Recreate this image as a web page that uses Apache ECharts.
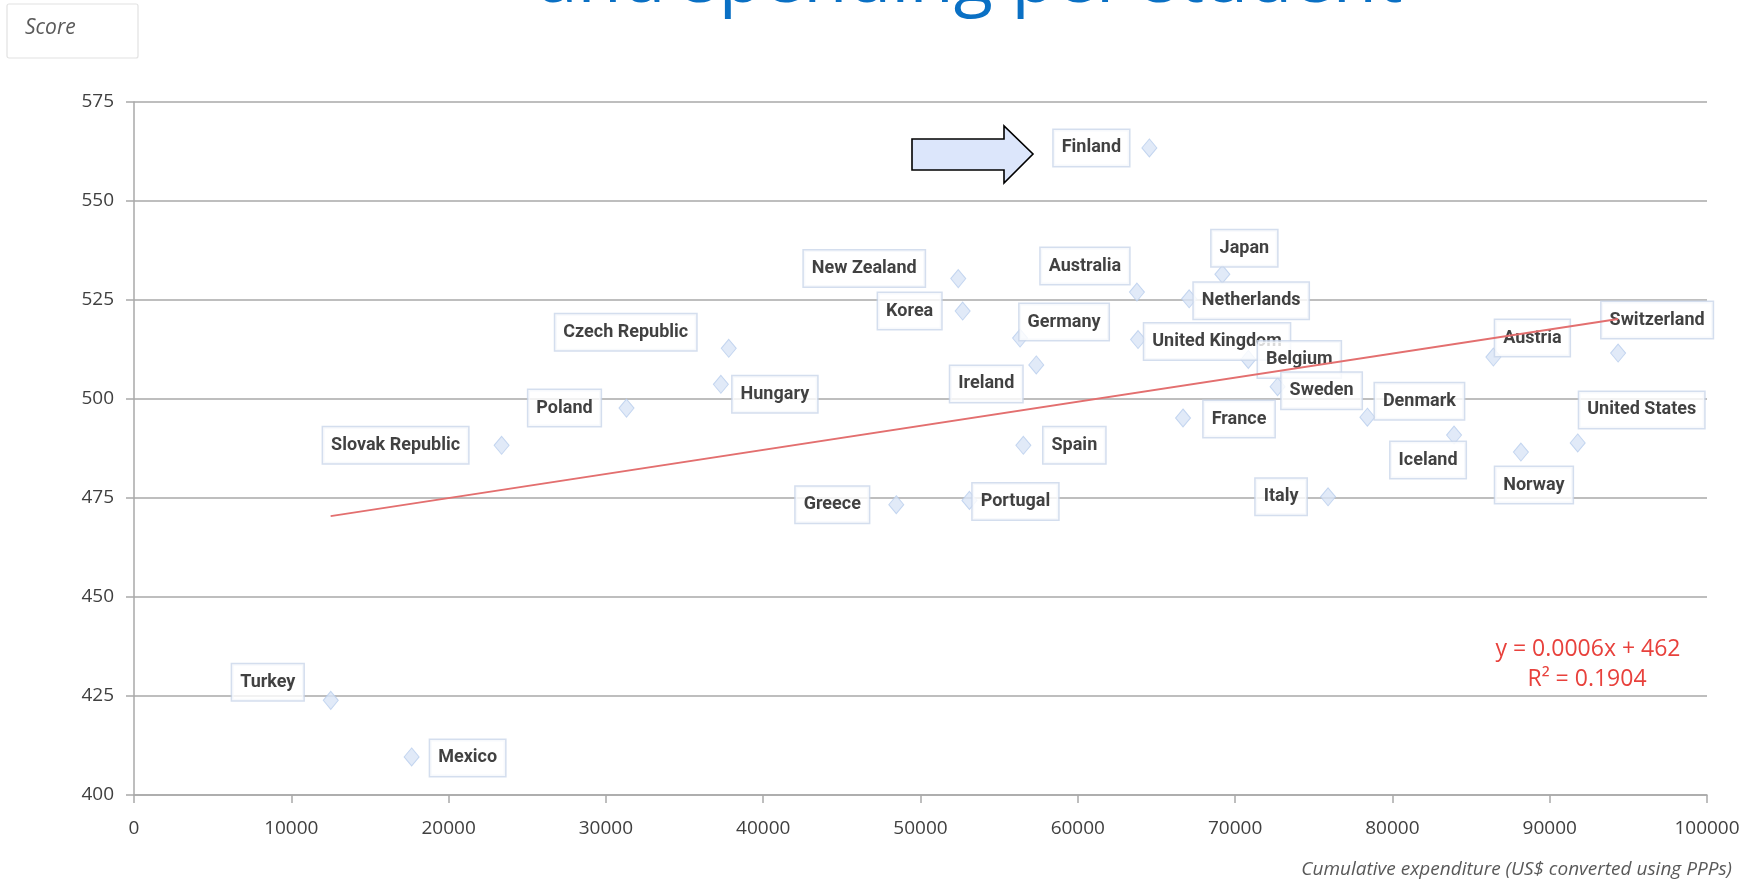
<!DOCTYPE html>
<html>
<head>
<meta charset="utf-8">
<script src="https://cdn.jsdelivr.net/npm/echarts@6/dist/echarts.min.js"></script>
<style>
  html, body { margin: 0; padding: 0; background: #fff; }
  #main { width: 1763px; height: 881px; }
</style>
</head>
<body>
<div id="main"></div>
<script>
// PISA science score vs cumulative spending per student
var countries = ['Finland', 'Japan', 'Netherlands', 'Australia', 'New Zealand', 'Korea',
    'Germany', 'United Kingdom', 'Belgium', 'Czech Republic', 'Hungary', 'Ireland',
    'Poland', 'Slovak Republic', 'Spain', 'France', 'Sweden', 'Denmark', 'Iceland',
    'Austria', 'Switzerland', 'United States', 'Norway', 'Italy', 'Greece', 'Portugal',
    'Turkey', 'Mexico'];
var spending = [64550, 69190, 67080, 63760, 52400, 52680,
    56330, 63830, 70840, 37810, 37310, 57360,
    31310, 23370, 56540, 66690, 72700, 78410, 83920,
    86420, 94350, 91780, 88170, 75910, 48460, 53110,
    12510, 17650];
var scores = [563.4, 531.5, 525.3, 527.0, 530.4, 522.2,
    515.4, 515.0, 510.0, 512.8, 503.7, 508.6,
    497.7, 488.3, 488.3, 495.2, 503.1, 495.4, 490.9,
    510.6, 511.6, 488.9, 486.6, 475.3, 473.3, 474.4,
    423.9, 409.6];

// trend line end points, as drawn
var trendX = [12500, 94350];
var trendY = [470.4, 520.2];

var xTicks = { min: 0, max: 100000, step: 10000 };
var yTicks = { min: 400, max: 575, step: 25 };

// where each name box sits relative to its marker (pixels)
var labelSpots = {
    'Finland': [-58, 0], 'Japan': [22, -26], 'Netherlands': [62, 2], 'Australia': [-52, -26],
    'New Zealand': [-94, -10], 'Korea': [-53, 0], 'Germany': [44, -16],
    'United Kingdom': [79, 2], 'Belgium': [51, 0], 'Czech Republic': [-103, -16],
    'Hungary': [54, 10], 'Ireland': [-50, 19], 'Poland': [-62, 0],
    'Slovak Republic': [-106, 0], 'Spain': [51, 0], 'France': [56, 1], 'Sweden': [44, 4],
    'Denmark': [52, -16], 'Iceland': [-26, 25], 'Austria': [39, -19],
    'Switzerland': [39, -33], 'United States': [64, -33], 'Norway': [13, 33],
    'Italy': [-47, 0], 'Greece': [-64, 0], 'Portugal': [46, 1], 'Turkey': [-63, -18],
    'Mexico': [56, 1]
};

var points = countries.map(function (c, i) {
    return {
        name: c,
        value: [spending[i], scores[i]],
        label: { offset: labelSpots[c] }
    };
});
var trend = trendX.map(function (x, i) { return [x, trendY[i]]; });

var axisFont = { fontFamily: 'Open Sans', fontSize: 19, color: '#404040' };
var gridLine = { color: '#a9a9a9', width: 1.5 };

var chart = echarts.init(document.getElementById('main'));
chart.setOption({
    animation: false,
    backgroundColor: '#fff',
    grid: { left: 134, right: 56, top: 102, bottom: 86 },
    xAxis: {
        type: 'value',
        min: xTicks.min, max: xTicks.max, interval: xTicks.step,
        axisLine: { show: true, lineStyle: gridLine },
        axisTick: { show: true, length: 8, lineStyle: gridLine },
        splitLine: { show: false },
        axisLabel: Object.assign({ margin: 24, formatter: function (v) { return String(v); } }, axisFont)
    },
    yAxis: {
        type: 'value',
        min: yTicks.min, max: yTicks.max, interval: yTicks.step,
        axisLine: { show: true, lineStyle: gridLine },
        axisTick: { show: true, length: 8, lineStyle: gridLine },
        splitLine: { show: true, lineStyle: gridLine },
        axisLabel: Object.assign({ margin: 20 }, axisFont)
    },
    series: [
        {
            type: 'scatter',
            z: 2,
            symbol: 'diamond',
            symbolSize: [15, 18],
            itemStyle: { color: '#dae5f6', borderColor: '#b8cdec', borderWidth: 1 },
            label: {
                show: true,
                position: 'inside',
                formatter: '{b}',
                fontFamily: 'Roboto',
                fontWeight: 'bold',
                fontSize: 18,
                lineHeight: 20,
                color: '#111',
                backgroundColor: '#fff',
                borderColor: '#c9d6ea',
                borderWidth: 1.5,
                padding: [8, 8]
            },
            emphasis: { disabled: true },
            data: points
        },
        {
            type: 'line',
            z: 10,
            showSymbol: false,
            silent: true,
            lineStyle: { color: '#e36f6f', width: 1.8 },
            data: trend
        }
    ],
    graphic: [
        {
            type: 'text',
            style: {
                x: 970, y: -19, text: 'and spending per student',
                font: '72px "Open Sans"', fill: '#0a70c4',
                textAlign: 'center', textVerticalAlign: 'middle'
            }
        },
        {
            type: 'rect',
            shape: { x: 7, y: 4, width: 131, height: 54, r: 2 },
            style: { fill: '#fff', stroke: '#e2e2e2', lineWidth: 1.2 }
        },
        {
            type: 'text',
            style: {
                x: 25, y: 28, text: 'Score',
                font: 'italic 21px "Open Sans"', fill: '#5a5a5a',
                textVerticalAlign: 'middle'
            }
        },
        {
            type: 'polygon',
            z: 20,
            shape: {
                points: [[912, 139], [1004, 139], [1004, 126], [1033, 154],
                    [1004, 183], [1004, 170], [912, 170]]
            },
            style: { fill: '#dce6fb', stroke: '#000', lineWidth: 1.6 }
        },
        {
            type: 'text',
            style: {
                x: 1588, y: 649, text: 'y = 0.0006x + 462',
                font: '23px "Open Sans"', fill: '#e8413c',
                textAlign: 'center', textVerticalAlign: 'middle'
            }
        },
        {
            type: 'text',
            style: {
                x: 1587, y: 679, text: 'R\u00b2 = 0.1904',
                font: '23px "Open Sans"', fill: '#e8413c',
                textAlign: 'center', textVerticalAlign: 'middle'
            }
        },
        {
            type: 'text',
            style: {
                x: 1732, y: 870, text: 'Cumulative expenditure (US$ converted using PPPs)',
                font: 'italic 19px "Open Sans"', fill: '#595959',
                textAlign: 'right', textVerticalAlign: 'middle'
            }
        }
    ]
});
</script>
</body>
</html>
